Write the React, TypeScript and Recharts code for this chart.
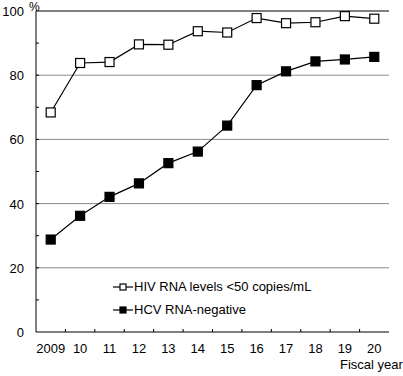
import React from 'react';
import {
  LineChart,
  Line,
  XAxis,
  YAxis,
  ReferenceLine,
  Legend,
} from 'recharts';

const years = ['2009', '10', '11', '12', '13', '14', '15', '16', '17', '18', '19', '20'];
const hivSuppressed = [68.4, 83.8, 84.1, 89.6, 89.5, 93.7, 93.3, 97.8, 96.2, 96.5, 98.4, 97.6];
const hcvNegative = [28.8, 36.2, 42.1, 46.3, 52.6, 56.2, 64.3, 76.9, 81.2, 84.3, 84.9, 85.7];
const yTicks = [0, 10, 20, 30, 40, 50, 60, 70, 80, 90, 100];
const gridValues = [20, 40, 60, 80];

const series = [
  { key: 'hiv', name: 'HIV RNA levels <50 copies/mL', filled: false },
  { key: 'hcv', name: 'HCV RNA-negative', filled: true },
];

const data = years.map((year, i) => ({
  year,
  hiv: hivSuppressed[i],
  hcv: hcvNegative[i],
}));

const FONT = '"Liberation Sans", Arial, sans-serif';

const SquareDot = (filled: boolean) => (props: any) => {
  const { cx, cy, index } = props;
  if (cx == null || cy == null) return null;
  return (
    <rect
      key={index}
      x={cx - 4.5}
      y={cy - 4.5}
      width={9}
      height={9}
      fill={filled ? '#000' : '#fff'}
      stroke="#000"
      strokeWidth={1.2}
    />
  );
};

const YTick = (props: any) => {
  const { x, y, payload } = props;
  const v = payload.value;
  return (
    <g>
      {v > 0 && v < 100 && (
        <line x1={x + 12} x2={x + 15} y1={y} y2={y} stroke="#000" />
      )}
      {v % 20 === 0 && (
        <text x={x} y={y} dy={5} textAnchor="end" fontSize={13} fill="#000" fontFamily={FONT}>
          {v}
        </text>
      )}
    </g>
  );
};

const XTick = (props: any) => {
  const { x, y, payload, index } = props;
  const half = payload.offset ?? 0;
  return (
    <g>
      {index < years.length - 1 && (
        <line x1={x + half} x2={x + half} y1={y} y2={y - 3} stroke="#000" />
      )}
      <text x={x} y={y} dy={21} textAnchor="middle" fontSize={13} fill="#000" fontFamily={FONT}>
        {payload.value}
      </text>
    </g>
  );
};

const LegendBox = () => (
  <div style={{ fontFamily: FONT, fontSize: 13, color: '#000' }}>
    {series.map((s) => (
      <div key={s.key} style={{ display: 'flex', alignItems: 'center', height: 23 }}>
        <svg width={20} height={12} style={{ marginRight: 1 }}>
          <line x1={0} x2={20} y1={6} y2={6} stroke="#000" strokeWidth={1.2} />
          <rect
            x={7}
            y={3}
            width={6}
            height={6}
            fill={s.filled ? '#000' : '#fff'}
            stroke="#000"
            strokeWidth={1.2}
          />
        </svg>
        <span>{s.name}</span>
      </div>
    ))}
  </div>
);

export default function App() {
  return (
    <div style={{ position: 'absolute', left: 0, top: 0, width: 403, height: 376, background: '#fff' }}>
      <LineChart
        width={403}
        height={376}
        data={data}
        margin={{ top: 11, right: 14, left: 0, bottom: 0 }}
      >
        <XAxis
          dataKey="year"
          scale="band"
          height={44}
          tickLine={false}
          tickSize={0}
          tickMargin={0}
          interval={0}
          axisLine={{ stroke: '#000' }}
          tick={<XTick />}
        />
        <YAxis
          width={36}
          domain={[0, 100]}
          ticks={yTicks}
          interval={0}
          tickLine={false}
          tickSize={0}
          tickMargin={12}
          axisLine={{ stroke: '#000' }}
          tick={<YTick />}
        />
        <YAxis
          yAxisId="right"
          orientation="right"
          width={0}
          tick={false}
          tickLine={false}
          axisLine={{ stroke: '#000' }}
        />
        {gridValues.map((v) => (
          <ReferenceLine key={v} y={v} stroke="#8c8c8c" strokeWidth={1} />
        ))}
        <ReferenceLine y={100} stroke="#000" strokeWidth={1} />
        <Legend
          content={<LegendBox />}
          layout="horizontal"
          verticalAlign="middle"
          align="center"
          wrapperStyle={{ left: 113, top: 275, width: 260 }}
        />
        {series.map((s) => (
          <Line
            key={s.key}
            dataKey={s.key}
            name={s.name}
            type="linear"
            stroke="#000"
            strokeWidth={1.2}
            dot={SquareDot(s.filled)}
            activeDot={false}
            isAnimationActive={false}
          />
        ))}
      </LineChart>
      <div style={{ position: 'absolute', left: 29, top: 0, fontFamily: FONT, fontSize: 12 }}>%</div>
      <div style={{ position: 'absolute', left: 340, top: 357, fontFamily: FONT, fontSize: 13 }}>Fiscal year</div>
    </div>
  );
}
